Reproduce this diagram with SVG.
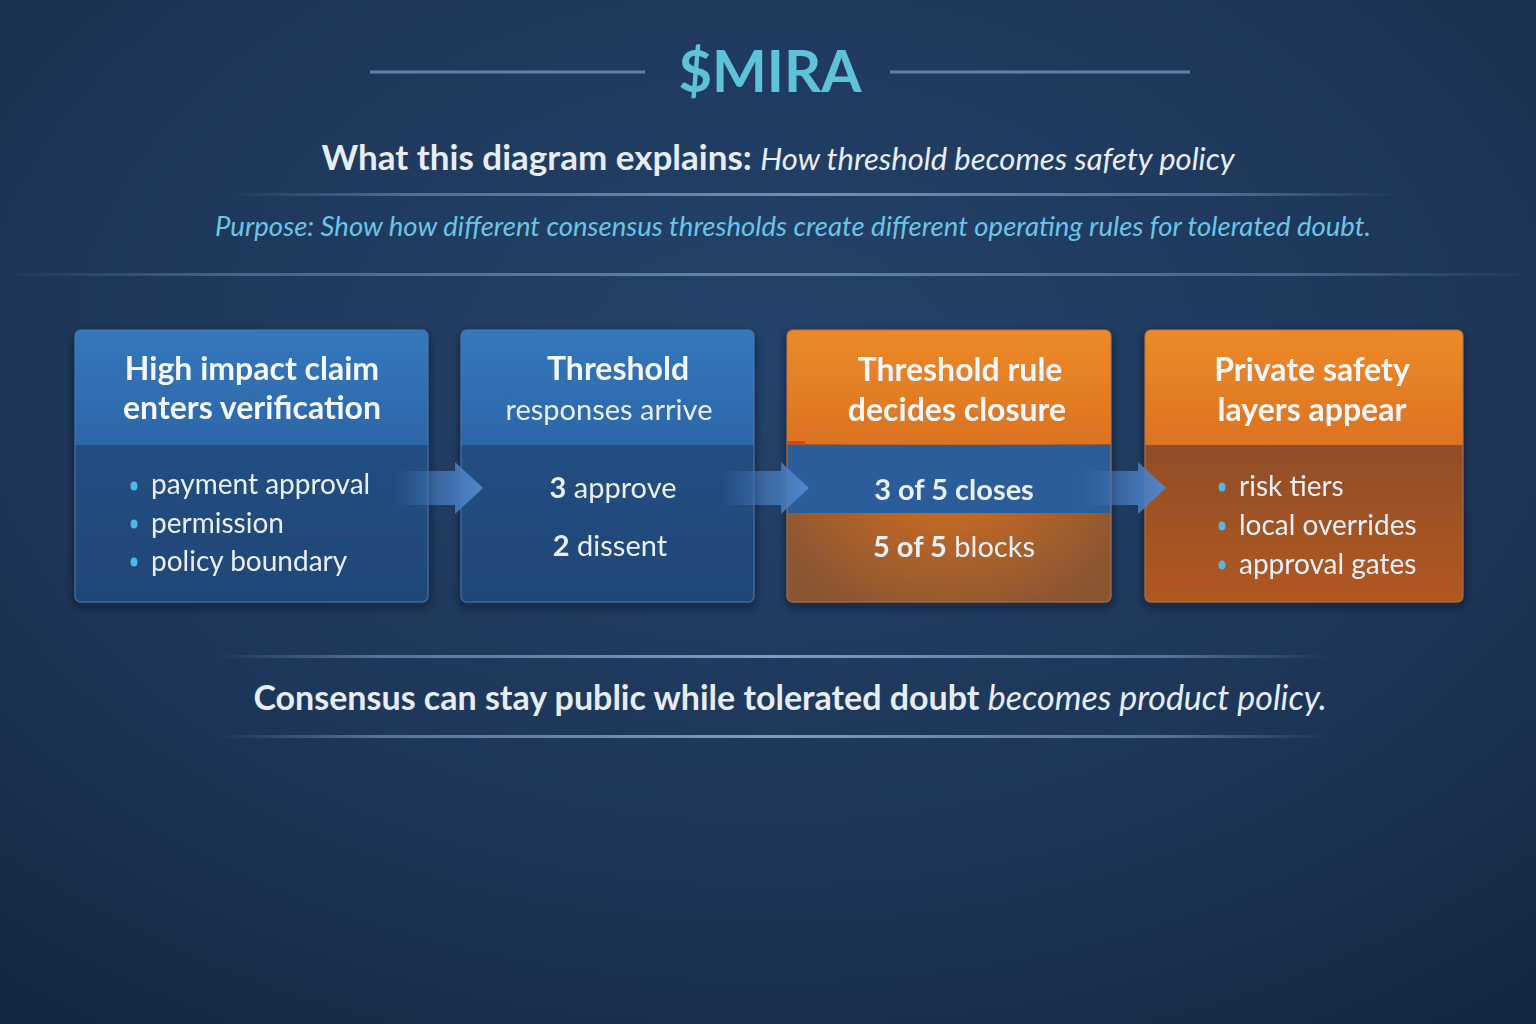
<svg xmlns="http://www.w3.org/2000/svg" width="1536" height="1024" viewBox="0 0 1536 1024">
<defs>
<radialGradient id="bg" cx="0.5" cy="0.35" r="0.8">
<stop offset="0" stop-color="#24426a"/>
<stop offset="0.6" stop-color="#1d3658"/>
<stop offset="1" stop-color="#142741"/>
</radialGradient>
<linearGradient id="hline" x1="0" x2="1" y1="0" y2="0">
<stop offset="0" stop-color="#7fa6d1" stop-opacity="0"/>
<stop offset="0.15" stop-color="#7fa6d1" stop-opacity="0.8"/>
<stop offset="0.5" stop-color="#a9c8ea" stop-opacity="1"/>
<stop offset="0.85" stop-color="#7fa6d1" stop-opacity="0.8"/>
<stop offset="1" stop-color="#7fa6d1" stop-opacity="0"/>
</linearGradient>
<linearGradient id="blueHead" x1="0" y1="0" x2="0" y2="1">
<stop offset="0" stop-color="#3577bd"/>
<stop offset="1" stop-color="#2c66a8"/>
</linearGradient>
<linearGradient id="blueBody" x1="0" y1="0" x2="0" y2="1">
<stop offset="0" stop-color="#24538c"/>
<stop offset="1" stop-color="#1f4777"/>
</linearGradient>
<linearGradient id="orHead" x1="0" y1="0" x2="0" y2="1">
<stop offset="0" stop-color="#ec8a2a"/>
<stop offset="1" stop-color="#dc7320"/>
</linearGradient>
<linearGradient id="brBody" x1="0" y1="0" x2="0" y2="1">
<stop offset="0" stop-color="#774631"/>
<stop offset="1" stop-color="#b2581f"/>
</linearGradient>
<radialGradient id="orGlow" cx="0.5" cy="0.5" r="0.6">
<stop offset="0" stop-color="#d9711f"/>
<stop offset="1" stop-color="#8a5533"/>
</radialGradient>
<linearGradient id="arrowG" x1="0" x2="1" y1="0" y2="0">
<stop offset="0" stop-color="#3d6cab" stop-opacity="0"/>
<stop offset="0.5" stop-color="#4274b5" stop-opacity="0.8"/>
<stop offset="1" stop-color="#5088cc"/>
</linearGradient>
<filter id="shadow" x="-10%" y="-10%" width="120%" height="130%">
<feDropShadow dx="0" dy="4" stdDeviation="5" flood-color="#08121f" flood-opacity="0.6"/>
</filter>
</defs>
<style>
text{font-family:Lato,"Open Sans","Liberation Sans",sans-serif;}
.title{font-size:58px;font-weight:700;fill:#5ec3d8;}
.sub{font-size:35px;font-weight:700;fill:#e6edf6;}
.subi{font-size:31px;font-weight:400;font-style:italic;fill:#e6edf6;}
.purpose{font-size:27.5px;font-style:italic;fill:#6cc4e6;}
.head{font-size:32px;font-weight:700;fill:#f4f7fb;}
.headr{font-size:29px;font-weight:400;fill:#e9eff7;}
.item{font-size:28px;fill:#eaf0f8;}
.big{font-size:29px;fill:#eaf0f8;}
.b{font-weight:700;}
.foot{font-size:34px;font-weight:700;fill:#e6edf6;}
.footi{font-weight:400;font-style:italic;}
.edge{fill:none;stroke:#4f7db5;stroke-opacity:0.6;stroke-width:1.5;}
.dot{fill:#4fb8e8;}
</style>
<rect width="1536" height="1024" fill="url(#bg)"/>

<g id="header">
<line x1="370" y1="72" x2="645" y2="72" stroke="#6f93bd" stroke-width="3" opacity="0.8"/>
<line x1="890" y1="72" x2="1190" y2="72" stroke="#6f93bd" stroke-width="3" opacity="0.8"/>
<text class="title" x="770" y="92" text-anchor="middle">$MIRA</text>
<text x="778" y="170" text-anchor="middle"><tspan class="sub">What this diagram explains: </tspan><tspan class="subi">How threshold becomes safety policy</tspan></text>
<rect x="230" y="193" width="1170" height="3" fill="url(#hline)" opacity="0.6"/>
<text class="purpose" x="793" y="236" text-anchor="middle">Purpose: Show how different consensus thresholds create different operating rules for tolerated doubt.</text>
<rect x="0" y="273" width="1536" height="3" fill="url(#hline)" opacity="0.5"/>
</g>

<g id="node1" filter="url(#shadow)">
<rect x="75" y="330" width="353" height="272" rx="6" fill="url(#blueBody)"/>
<path d="M81,330 H422 A6,6 0 0 1 428,336 V445 H75 V336 A6,6 0 0 1 81,330 Z" fill="url(#blueHead)"/>
<rect x="75" y="330" width="353" height="272" rx="6" class="edge"/>
<text class="head" x="252" y="380" text-anchor="middle">High impact claim</text>
<text class="head" x="252" y="419" text-anchor="middle">enters verification</text>
<ellipse class="dot" cx="134" cy="486" rx="3.5" ry="4.5"/>
<ellipse class="dot" cx="134" cy="524" rx="3.5" ry="4.5"/>
<ellipse class="dot" cx="134" cy="562" rx="3.5" ry="4.5" fill="#8fa8c4"/>
<text class="item" x="151" y="494">payment approval</text>
<text class="item" x="151" y="533">permission</text>
<text class="item" x="151" y="571">policy boundary</text>
</g>

<g id="node2" filter="url(#shadow)">
<rect x="461" y="330" width="293" height="272" rx="6" fill="url(#blueBody)"/>
<path d="M467,330 H748 A6,6 0 0 1 754,336 V445 H461 V336 A6,6 0 0 1 467,330 Z" fill="url(#blueHead)"/>
<rect x="461" y="330" width="293" height="272" rx="6" class="edge"/>
<text class="head" x="618" y="380" text-anchor="middle">Threshold</text>
<text class="headr" x="609" y="420" text-anchor="middle">responses arrive</text>
<text class="big" x="613" y="498" text-anchor="middle"><tspan class="b">3</tspan> approve</text>
<text class="big" x="610" y="556" text-anchor="middle"><tspan class="b">2</tspan> dissent</text>
</g>

<g id="node3" filter="url(#shadow)">
<rect x="787" y="330" width="324" height="272" rx="6" fill="url(#orGlow)"/>
<rect x="787" y="445" width="324" height="68" fill="#2b5d99"/>
<path d="M793,330 H1105 A6,6 0 0 1 1111,336 V444 H787 V336 A6,6 0 0 1 793,330 Z" fill="url(#orHead)"/>
<rect x="787" y="441" width="18" height="3" fill="#e0401c"/>
<rect x="787" y="330" width="324" height="272" rx="6" fill="none" stroke="#c2773a" stroke-opacity="0.6" stroke-width="1.5"/>
<text class="head" x="960" y="381" text-anchor="middle">Threshold rule</text>
<text class="head" x="957" y="421" text-anchor="middle">decides closure</text>
<text class="big b" x="954" y="500" text-anchor="middle">3 of 5 closes</text>
<text class="big" x="954" y="557" text-anchor="middle"><tspan class="b">5 of 5</tspan> blocks</text>
</g>

<g id="node4" filter="url(#shadow)">
<rect x="1145" y="330" width="318" height="272" rx="6" fill="url(#brBody)"/>
<path d="M1151,330 H1457 A6,6 0 0 1 1463,336 V445 H1145 V336 A6,6 0 0 1 1151,330 Z" fill="url(#orHead)"/>
<rect x="1145" y="330" width="318" height="272" rx="6" fill="none" stroke="#c2773a" stroke-opacity="0.6" stroke-width="1.5"/>
<text class="head" x="1312" y="381" text-anchor="middle">Private safety</text>
<text class="head" x="1312" y="421" text-anchor="middle">layers appear</text>
<ellipse class="dot" cx="1222" cy="487" rx="3.5" ry="4.5"/>
<ellipse class="dot" cx="1222" cy="526" rx="3.5" ry="4.5"/>
<ellipse class="dot" cx="1222" cy="565" rx="3.5" ry="4.5"/>
<text class="item" x="1239" y="496">risk tiers</text>
<text class="item" x="1239" y="535">local overrides</text>
<text class="item" x="1239" y="574">approval gates</text>
</g>

<g id="connectors">
<path d="M395,471 H455 V462 L483,488 L455,514 V505 H395 Z" fill="url(#arrowG)"/>
<path d="M721,471 H781 V462 L809,488 L781,514 V505 H721 Z" fill="url(#arrowG)"/>
<path d="M1078,471 H1138 V462 L1166,488 L1138,514 V505 H1078 Z" fill="url(#arrowG)"/>
</g>

<g id="footer">
<rect x="215" y="655" width="1115" height="3" fill="url(#hline)" opacity="0.7"/>
<text x="790" y="710" text-anchor="middle" class="foot">Consensus can stay public while tolerated doubt <tspan class="footi">becomes product policy.</tspan></text>
<rect x="215" y="735" width="1115" height="3" fill="url(#hline)" opacity="0.7"/>
</g>
</svg>
